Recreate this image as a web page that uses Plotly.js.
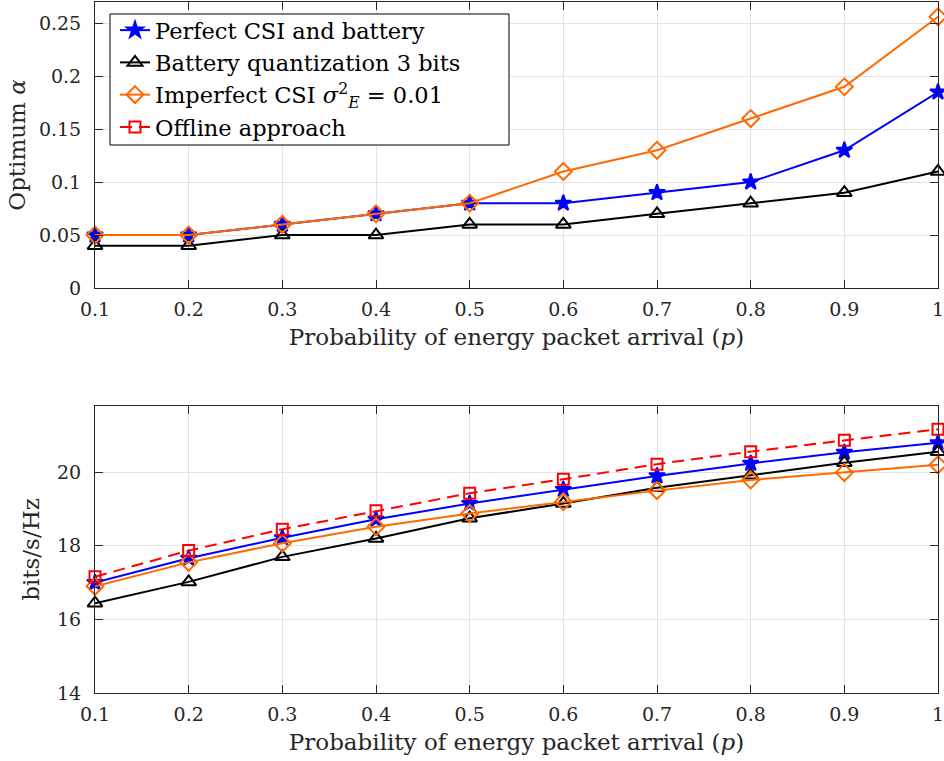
<!DOCTYPE html>
<html>
<head>
<meta charset="utf-8">
<script src="https://cdn.plot.ly/plotly-3.0.1.min.js"></script>
<style>html,body{margin:0;padding:0;background:#fff;}#chart{width:944px;height:761px;}</style>
</head>
<body>
<div id="chart"></div>
<script>
// Data
const p = [0.1, 0.2, 0.3, 0.4, 0.5, 0.6, 0.7, 0.8, 0.9, 1.0];
const xTickVals = [0.1, 0.2, 0.3, 0.4, 0.5, 0.6, 0.7, 0.8, 0.9, 1.0];
const xTickText = ['0.1', '0.2', '0.3', '0.4', '0.5', '0.6', '0.7', '0.8', '0.9', '1'];
const seriesNames = ['Perfect CSI and battery', 'Battery quantization 3 bits',
  'Imperfect CSI <i>σ</i><sup>2</sup><sub><i>E</i></sub> = 0.01', 'Offline approach'];

// Top: optimum alpha
const alphaPerfect = [0.05, 0.05, 0.06, 0.07, 0.08, 0.08, 0.09, 0.10, 0.13, 0.185];
const alphaBattery = [0.04, 0.04, 0.05, 0.05, 0.06, 0.06, 0.07, 0.08, 0.09, 0.11];
const alphaImperfect = [0.05, 0.05, 0.06, 0.07, 0.08, 0.11, 0.13, 0.16, 0.19, 0.256];

// Bottom: bits/s/Hz
const ratePerfect = [17.0, 17.66, 18.22, 18.72, 19.15, 19.53, 19.90, 20.24, 20.54, 20.80];
const rateBattery = [16.44, 17.02, 17.70, 18.20, 18.75, 19.15, 19.58, 19.92, 20.26, 20.56];
const rateImperfect = [16.90, 17.55, 18.07, 18.52, 18.88, 19.20, 19.50, 19.79, 19.99, 20.20];
const rateOffline = [17.16, 17.87, 18.45, 18.95, 19.43, 19.81, 20.22, 20.56, 20.87, 21.17];

const yTicksTop = [0, 0.05, 0.1, 0.15, 0.2, 0.25];
const yTickTextTop = ['0', '0.05', '0.1', '0.15', '0.2', '0.25'];
const yTicksBottom = [14, 16, 18, 20];

const colors = {perfect: '#0000ff', battery: '#000000', imperfect: '#ff6a00', offline: '#ff0000'};
const font = 'DejaVu Serif';

function mk(x, y, name, color, symbol, dash, xa, ya, show, size) {
  return {
    x: x, y: y, name: name, type: 'scatter', mode: 'lines+markers',
    xaxis: xa, yaxis: ya, showlegend: show, cliponaxis: false,
    line: {color: color, width: 2, dash: dash},
    marker: {symbol: symbol, size: size, color: color, line: {color: color, width: 2}}
  };
}

const traces = [
  mk(p, alphaBattery, seriesNames[1], colors.battery, 'triangle-up-open', 'solid', 'x', 'y', false, 13),
  mk(p, alphaPerfect, seriesNames[0], colors.perfect, 'star', 'solid', 'x', 'y', false, 12),
  mk(p, alphaImperfect, seriesNames[2], colors.imperfect, 'diamond-open', 'solid', 'x', 'y', false, 13),
  mk(p, ratePerfect, seriesNames[0], colors.perfect, 'star', 'solid', 'x2', 'y2', true, 12),
  mk(p, rateBattery, seriesNames[1], colors.battery, 'triangle-up-open', 'solid', 'x2', 'y2', true, 13),
  mk(p, rateImperfect, seriesNames[2], colors.imperfect, 'diamond-open', 'solid', 'x2', 'y2', true, 13),
  mk(p, rateOffline, seriesNames[3], colors.offline, 'square-open', '12px,7px', 'x2', 'y2', true, 11)
];

const tickFont = {family: font, size: 19, color: '#262626'};
const titleFont = {family: font, size: 23, color: '#262626'};
const axCommon = {
  showline: true, linecolor: '#262626', linewidth: 1, mirror: 'ticks',
  ticks: 'inside', ticklen: 8, tickcolor: '#262626', tickwidth: 1,
  showgrid: true, gridcolor: '#e3e3e3', gridwidth: 1, zeroline: false,
  tickfont: tickFont, automargin: false, ticklabeloverflow: 'allow'
};
const xDom = [95/944, 938/944];

const layout = {
  width: 944, height: 761,
  margin: {l: 0, r: 0, t: 0, b: 0},
  paper_bgcolor: '#ffffff', plot_bgcolor: '#ffffff',
  font: {family: font, color: '#262626'},
  xaxis: Object.assign({}, axCommon, {domain: xDom, range: [0.1, 1], anchor: 'y',
    tickvals: xTickVals, ticktext: xTickText, ticklabelstandoff: 4,
    title: {text: 'Probability of energy packet arrival (<i>p</i>)', font: titleFont, standoff: 10}}),
  yaxis: Object.assign({}, axCommon, {domain: [1 - 288/761, 1 - 2/761], range: [0, 0.27], anchor: 'x',
    tickvals: yTicksTop, ticktext: yTickTextTop, ticklabelstandoff: 9,
    title: {text: 'Optimum <i>α</i>', font: titleFont, standoff: 6}}),
  xaxis2: Object.assign({}, axCommon, {domain: xDom, range: [0.1, 1], anchor: 'y2',
    tickvals: xTickVals, ticktext: xTickText, ticklabelstandoff: 4,
    title: {text: 'Probability of energy packet arrival (<i>p</i>)', font: titleFont, standoff: 10}}),
  yaxis2: Object.assign({}, axCommon, {domain: [1 - 693/761, 1 - 406/761], range: [14, 21.8], anchor: 'x2',
    tickvals: yTicksBottom, ticklabelstandoff: 9,
    title: {text: 'bits/s/Hz', font: titleFont, standoff: 10}}),
  shapes: [{
    type: 'rect', xref: 'paper', yref: 'paper', layer: 'above',
    x0: 110/944, x1: 509/944, y0: 1 - 145/761, y1: 1 - 14/761,
    fillcolor: '#ffffff', line: {color: '#000000', width: 1}
  }],
  legend: {
    x: 115/944, y: 1 - 9/761, xanchor: 'left', yanchor: 'top',
    bgcolor: 'rgba(0,0,0,0)', borderwidth: 0,
    font: {family: font, size: 22.5, color: '#000000'},
    tracegroupgap: 0, itemwidth: 30
  },
  showlegend: true
};

Plotly.newPlot('chart', traces, layout, {displayModeBar: false, staticPlot: true});
</script>
</body>
</html>
